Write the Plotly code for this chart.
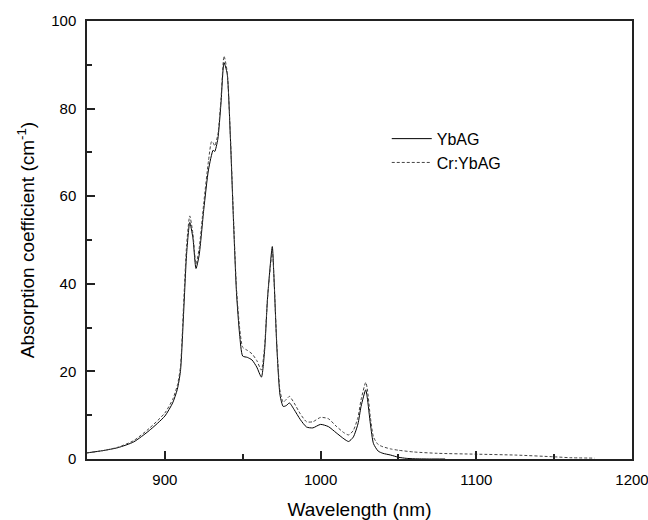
import plotly.graph_objects as go

# Wavelength (nm) and absorption coefficient (cm^-1)
wl_ybag = [850, 860, 870, 880, 890, 900, 905, 908, 910, 912, 914, 916, 918, 920, 922,
           925, 928, 931, 932, 934, 936, 938, 940, 942, 944, 946, 948, 950, 953, 956,
           959, 962, 964, 966, 969, 970, 972, 974, 976, 978, 980, 983, 987, 991, 995,
           1000, 1005, 1010, 1015, 1018, 1021, 1024, 1026, 1029, 1030, 1032, 1034,
           1037, 1040, 1045, 1050, 1055, 1060, 1070, 1080]
ybag = [1.4, 1.9, 2.6, 3.9, 6.5, 9.8, 12.8, 15.9, 20, 33, 47, 54, 50.5, 43.5, 46.5,
        57, 66, 70.5, 70.2, 73, 81, 90.5, 88, 74, 55, 38, 28.5, 23.5, 23.2, 22.6,
        21, 18.7, 24.5, 37, 48.5, 42, 25, 14.5, 12, 12.2, 12.8, 11.3, 9, 7.3, 7.1,
        7.9, 7.4, 6, 4.6, 4.0, 5, 8, 12, 15.8, 14, 8, 3.5, 1.8, 1.3, 0.9, 0.4, 0.15,
        0.05, 0.0, 0.0]

wl_cr = [850, 860, 870, 880, 890, 900, 905, 908, 910, 912, 914, 916, 918, 920, 922,
         925, 928, 930, 931, 932, 934, 936, 938, 940, 942, 944, 946, 948, 950, 953,
         956, 959, 962, 964, 966, 969, 970, 972, 974, 976, 978, 980, 983, 987, 991,
         995, 1000, 1005, 1010, 1015, 1018, 1021, 1024, 1026, 1029, 1030, 1032, 1034,
         1037, 1040, 1045, 1050, 1060, 1075, 1100, 1125, 1150, 1160, 1176]
cr_ybag = [1.4, 1.9, 2.7, 4.2, 7.0, 10.5, 13.6, 16.8, 21, 35, 49, 55.5, 51.5, 44.5, 48,
           58.5, 68, 72.5, 72.2, 71.5, 74, 82, 92, 88.5, 74.5, 56, 39, 30, 25.5, 24.8,
           24, 22.5, 20.3, 25.5, 37, 47.5, 42, 25.5, 15.5, 13, 13.6, 14.3, 12.8, 10.3,
           8.5, 8.5, 9.5, 9.2, 7.5, 6.0, 5.5, 6.5, 9.5, 13.5, 17.5, 16, 9.5, 5, 3.3,
           2.8, 2.3, 2.0, 1.6, 1.3, 1.1, 0.9, 0.5, 0.3, 0.2]

font = "Liberation Sans, Arial, Helvetica, sans-serif"

fig = go.Figure()
fig.add_trace(go.Scatter(x=wl_ybag, y=ybag, name="YbAG", mode="lines",
                         line=dict(color="black", width=1, shape="spline", smoothing=0.6)))
fig.add_trace(go.Scatter(x=wl_cr, y=cr_ybag, name="Cr:YbAG", mode="lines",
                         line=dict(color="#444444", width=1, dash="3px,2px",
                                   shape="spline", smoothing=0.6)))

axis_common = dict(showline=True, linecolor="#222222", linewidth=1.5, mirror=True,
                   ticks="inside", ticklen=8, tickwidth=1.5, tickcolor="#222222",
                   showgrid=False, zeroline=False, automargin=False,
                   ticklabeloverflow="allow",
                   tickfont=dict(family=font, size=15, color="black"))

fig.update_xaxes(range=[850, 1200], dtick=100, tick0=900,
                 minor=dict(ticks="inside", ticklen=5, dtick=50, tick0=850,
                            tickcolor="#222222", tickwidth=1.5),
                 ticklabelstandoff=6,
                 title=dict(text="Wavelength (nm)", font=dict(family=font, size=19, color="black"),
                            standoff=16),
                 **axis_common)
fig.update_yaxes(range=[0, 100], dtick=20,
                 minor=dict(ticks="inside", ticklen=5, dtick=10,
                            tickcolor="#222222", tickwidth=1.5),
                 ticklabelstandoff=6,
                 title=dict(text="Absorption coefficient (cm<sup>-1</sup>)",
                            font=dict(family=font, size=19, color="black"), standoff=12),
                 **axis_common)

fig.update_layout(
    width=648, height=520,
    margin=dict(l=87, r=16, t=21, b=61, autoexpand=False),
    plot_bgcolor="white", paper_bgcolor="white",
    font=dict(family=font, color="black"),
    legend=dict(x=0.55, y=0.77, xanchor="left", yanchor="top",
                bgcolor="rgba(0,0,0,0)", font=dict(family=font, size=16, color="black"),
                itemwidth=40, tracegroupgap=0),
)

fig.write_html("out.html", config={"displayModeBar": False},
               post_script="document.body.style.margin='0';")
